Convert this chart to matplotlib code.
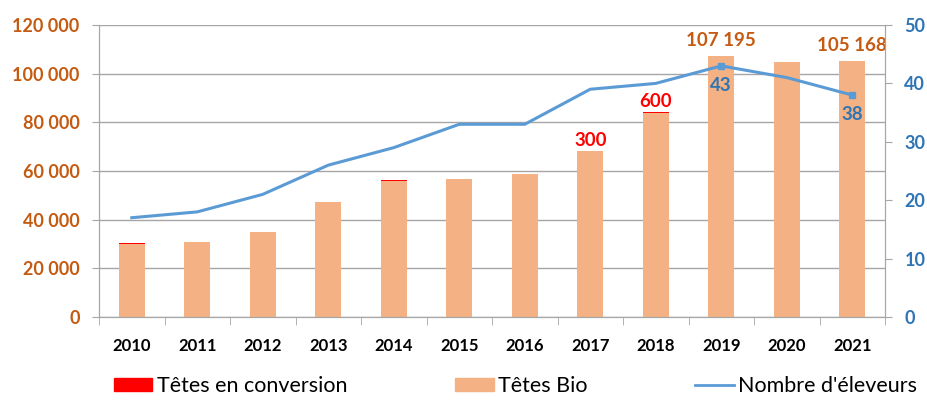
import numpy as np
import matplotlib.pyplot as plt
from matplotlib.patches import Patch
from matplotlib.lines import Line2D

plt.rcParams['font.family'] = ['Lato', 'DejaVu Sans']

# ------------------------------------------------------------
# données
# ------------------------------------------------------------
annees = ['2010', '2011', '2012', '2013', '2014', '2015',
          '2016', '2017', '2018', '2019', '2020', '2021']
tetes_conversion = [500, 0, 0, 0, 300, 0, 0, 300, 600, 0, 0, 0]
tetes_bio = [29900, 31000, 35000, 47300, 56000, 56700,
             58600, 68100, 83800, 107195, 104700, 105168]
nb_eleveurs = [17, 18, 21, 26, 29, 33, 33, 39, 40, 43, 41, 38]

# étiquettes affichées
labels_bio = {'2019': '107 195', '2021': '105 168'}
labels_conv = {'2017': '300', '2018': '600'}
labels_elev = {'2019': '43', '2021': '38'}

C_BIO = '#F4B183'
C_CONV = '#FF0000'
C_LINE = '#5B9BD5'
C_LEFT = '#C55A11'
C_RIGHT = '#2E75B6'
C_GRID = '#A6A6A6'
FS = 13.5

x = np.arange(len(annees))
width = 0.40

fig = plt.figure(figsize=(9.27, 4.0), dpi=100)
ax = fig.add_axes([99 / 927, 1 - 317 / 400, 786 / 927, 292 / 400])

ax.bar(x, tetes_bio, width, color=C_BIO, zorder=2)
ax.bar(x, tetes_conversion, width, bottom=tetes_bio, color=C_CONV, zorder=2)

ax.set_xlim(-0.5, len(annees) - 0.5)
ax.set_ylim(0, 120000)
ax.set_yticks(np.arange(0, 120001, 20000))
ax.set_yticklabels([f'{v:,}'.replace(',', ' ') for v in range(0, 120001, 20000)],
                   color=C_LEFT, fontsize=13, fontweight='bold')
ax.set_xticks(x)
ax.set_xticklabels(annees, fontsize=12, fontweight='bold')
ax.set_xticks(np.arange(-0.5, len(annees), 1), minor=True)
ax.tick_params(axis='x', which='major', length=0, pad=15)
ax.tick_params(axis='x', which='minor', length=6, color=C_GRID, direction='out')
ax.tick_params(axis='y', length=5, color=C_GRID, pad=9)
ax.grid(axis='y', color=C_GRID, linewidth=1, zorder=0)
ax.set_axisbelow(True)
ax.spines['top'].set_visible(False)
for s in ['left', 'right', 'bottom']:
    ax.spines[s].set_color(C_GRID)

# étiquettes des barres
for i, a in enumerate(annees):
    tot = tetes_bio[i] + tetes_conversion[i]
    if a in labels_bio:
        ax.annotate(labels_bio[a], (i, tot), xytext=(0, 5), textcoords='offset points',
                    ha='center', va='bottom', color=C_LEFT, fontsize=FS, fontweight='bold')
    if a in labels_conv:
        ax.annotate(labels_conv[a], (i, tot), xytext=(0, 1), textcoords='offset points',
                    ha='center', va='bottom', color=C_CONV, fontsize=FS, fontweight='bold')

# axe secondaire : nombre d'éleveurs
ax2 = ax.twinx()
ax2.plot(x, nb_eleveurs, color=C_LINE, linewidth=2.2, zorder=3)
idx_m = [annees.index(a) for a in labels_elev]
ax2.plot(idx_m, [nb_eleveurs[i] for i in idx_m], 's', color=C_LINE, markersize=5)
for i in idx_m:
    ax2.annotate(labels_elev[annees[i]], (i, nb_eleveurs[i]), xytext=(0, -8),
                 textcoords='offset points', ha='center', va='top',
                 color=C_RIGHT, fontsize=FS, fontweight='bold')
ax2.set_ylim(0, 50)
ax2.set_yticks(np.arange(0, 51, 10))
ax2.tick_params(axis='y', labelcolor=C_RIGHT, labelsize=13, length=5,
                color=C_GRID, pad=9)
for lab in ax2.get_yticklabels():
    lab.set_fontweight('bold')
ax2.spines['top'].set_visible(False)
for s in ['left', 'right', 'bottom']:
    ax2.spines[s].set_color(C_GRID)

handles = [Patch(color=C_CONV), Patch(color=C_BIO), Line2D([], [], color=C_LINE, lw=2)]
fig.legend(handles, ['Têtes en conversion', 'Têtes Bio', "Nombre d'éleveurs"],
           loc='center', bbox_to_anchor=(0.556, 0.035), ncol=3, frameon=False,
           fontsize=15.5, handlelength=1.8, handleheight=0.6, handletextpad=0.2,
           columnspacing=5.0, borderpad=0)

fig.savefig('out.png', dpi=100)
